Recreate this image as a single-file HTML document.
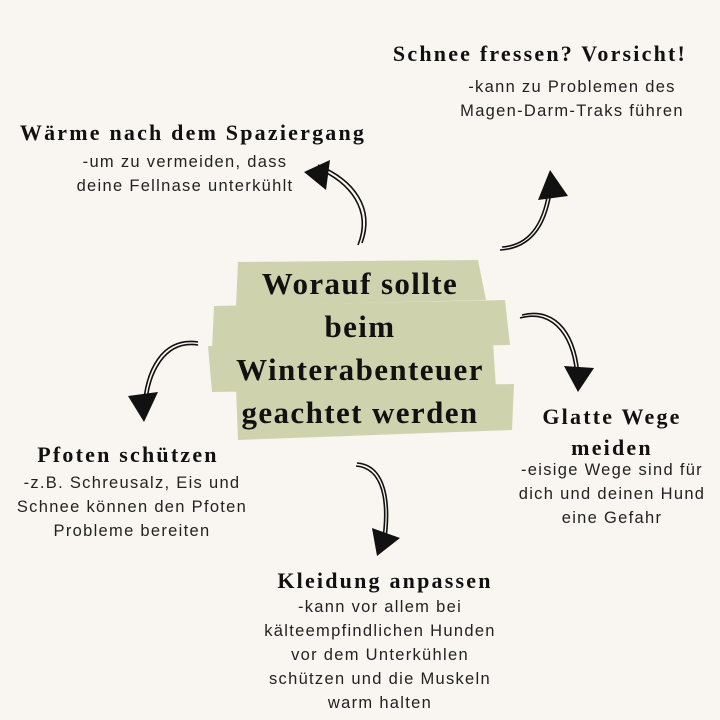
<!DOCTYPE html>
<html><head><meta charset="utf-8"><style>
body{margin:0;width:720px;height:720px;background:#f9f6f1;position:relative;overflow:hidden}
.t{position:absolute;transform:translateX(-50%);white-space:nowrap;text-align:center}
.h{font-family:"Liberation Serif",serif;font-weight:bold;font-size:22px;letter-spacing:2.2px;color:#111}
.b{font-family:"Liberation Sans",sans-serif;font-size:16.5px;letter-spacing:1.3px;color:#222;line-height:24px}
.c{font-family:"Liberation Serif",serif;font-weight:bold;font-size:31px;letter-spacing:1.4px;color:#111;line-height:43px}
</style></head><body>
<svg width="720" height="720" style="position:absolute;left:0;top:0">
<g fill="#cfd3ad">
<path d="M238 262 L478 260 L486 300 L236 306 Z"/>
<path d="M214 306 L505 300 L510 345 L212 350 Z"/>
<path d="M208 346 L493 342 L496 388 L212 392 Z"/>
<path d="M236 388 L514 384 L512 430 L238 440 Z"/>
</g>
<g fill="none" stroke="#111" stroke-width="1.6">
<path d="M358 245 C372 210 350 182 316 168"/><path d="M362 243 C375 208 354 180 318 165"/>
<path d="M500 250 C535 248 548 220 552 185"/><path d="M502 247 C533 245 545 218 549 185"/>
<path d="M520 318 C555 308 575 340 576 380"/><path d="M522 315 C558 306 578 338 579 380"/>
<path d="M198 345 C165 340 148 372 146 410"/><path d="M198 342 C162 337 145 370 143 410"/>
<path d="M357 463 C385 465 392 500 385 545"/><path d="M356 466 C383 468 389 502 382 545"/>
</g>
<g fill="#111">
<path d="M304 172 L330 160 L326 190 Z"/>
<path d="M550 170 L538 200 L568 196 Z"/>
<path d="M578 392 L564 366 L594 368 Z"/>
<path d="M144 422 L128 396 L158 392 Z"/>
<path d="M377 556 L372 528 L400 538 Z"/>
</g>
</svg>
<div class="t c" style="left:360px;top:262px">Worauf sollte<br>beim<br>Winterabenteuer<br>geachtet werden</div>
<div class="t h" style="left:540px;top:41px">Schnee fressen? Vorsicht!</div>
<div class="t b" style="left:572px;top:75px">-kann zu Problemen des<br>Magen-Darm-Traks führen</div>
<div class="t h" style="left:193px;top:120px">Wärme nach dem Spaziergang</div>
<div class="t b" style="left:185px;top:150px">-um zu vermeiden, dass<br>deine Fellnase unterkühlt</div>
<div class="t h" style="left:128px;top:442px">Pfoten schützen</div>
<div class="t b" style="left:132px;top:471px">-z.B. Schreusalz, Eis und<br>Schnee können den Pfoten<br>Probleme bereiten</div>
<div class="t h" style="left:612px;top:401px;line-height:31px">Glatte Wege<br>meiden</div>
<div class="t b" style="left:612px;top:458px">-eisige Wege sind für<br>dich und deinen Hund<br>eine Gefahr</div>
<div class="t h" style="left:385px;top:568px">Kleidung anpassen</div>
<div class="t b" style="left:380px;top:595px">-kann vor allem bei<br>kälteempfindlichen Hunden<br>vor dem Unterkühlen<br>schützen und die Muskeln<br>warm halten</div>
</body></html>
